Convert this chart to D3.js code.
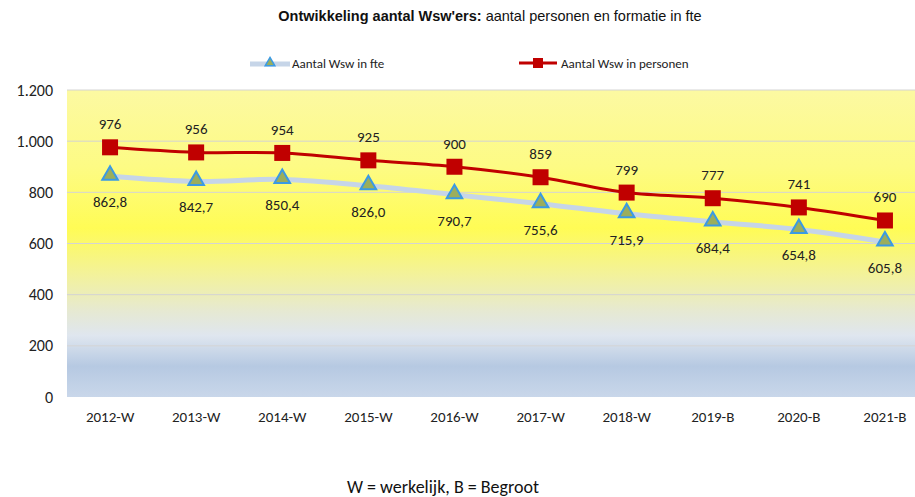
<!DOCTYPE html>
<meta charset="utf-8">
<script src="https://d3js.org/d3.v7.min.js"></script>
<style>
  body { margin: 0; background: #fff; }
  text { font-family: Carlito, Lato, "Liberation Sans", sans-serif; }
</style>
<div id="my_dataviz"></div>
<script>
    // data
    var years = ["2012-W", "2013-W", "2014-W", "2015-W", "2016-W", "2017-W", "2018-W", "2019-B", "2020-B", "2021-B"]
    var personen = [976, 956, 954, 925, 900, 859, 799, 777, 741, 690]
    var fte = [862.8, 842.7, 850.4, 826.0, 790.7, 755.6, 715.9, 684.4, 654.8, 605.8]
    var yTicks = [0, 200, 400, 600, 800, 1000, 1200]

    var width = 915, height = 497
    var margin = { top: 90, left: 67, right: -13, bottom: 100 }

    var svg = d3.select("#my_dataviz")
        .append("svg")
        .attr("width", width)
        .attr("height", height)

    var x = d3.scaleBand()
        .domain(years)
        .range([margin.left, width - margin.right])

    var y = d3.scaleLinear()
        .domain([0, 1200])
        .range([height - margin.bottom, margin.top])

    // background gradient of the plot area
    var grad = svg.append("defs").append("linearGradient")
        .attr("id", "bg").attr("x1", 0).attr("y1", 0).attr("x2", 0).attr("y2", 1)
    var stops = [[0, "#fcf9a2"], [0.25, "#fdfb84"], [0.45, "#fffc55"], [0.6, "#f3f29a"], [0.72, "#e6e9d2"], [0.8, "#dfe6ef"], [0.9, "#b6c9e2"], [1, "#c9d7ea"]]
    stops.forEach(function(s) {
        grad.append("stop").attr("offset", s[0]).attr("stop-color", s[1])
    })

    svg.append("rect")
        .attr("x", margin.left)
        .attr("y", y(1200))
        .attr("width", width - margin.right - margin.left)
        .attr("height", y(0) - y(1200))
        .attr("fill", "url(#bg)")

    // gridlines
    svg.selectAll(".grid")
        .data(yTicks.filter(function(d) { return d > 0 }))
        .enter().append("line")
        .attr("x1", margin.left)
        .attr("x2", width - margin.right)
        .attr("y1", function(d) { return y(d) })
        .attr("y2", function(d) { return y(d) })
        .attr("stroke", "#d4d4d4")
        .attr("stroke-width", 1)

    // y axis labels
    var yAxis = d3.axisLeft(y)
        .tickValues(yTicks)
        .tickSize(0)
        .tickPadding(14)
        .tickFormat(function(d) { return d3.format(",")(d).replace(",", ".") })
    svg.append("g")
        .attr("transform", "translate(" + margin.left + ",0)")
        .call(yAxis)
        .call(function(g) { g.select(".domain").remove() })
        .selectAll("text")
        .style("font-size", "16px")
        .attr("fill", "#222")

    // x axis labels
    var xAxis = d3.axisBottom(x).tickSize(0).tickPadding(14)
    svg.append("g")
        .attr("transform", "translate(0," + y(0) + ")")
        .call(xAxis)
        .call(function(g) { g.select(".domain").remove() })
        .selectAll("text")
        .style("font-size", "15px")
        .attr("fill", "#222")

    var cx = function(d, i) { return x(years[i]) + x.bandwidth() / 2 }

    var line = d3.line()
        .x(cx)
        .y(function(d) { return y(d) })
        .curve(d3.curveCatmullRom.alpha(0.5))

    // fte line
    svg.append("path")
        .datum(fte)
        .attr("d", line)
        .attr("fill", "none")
        .attr("stroke", "#c6d5e8")
        .attr("stroke-width", 5)

    // personen line
    svg.append("path")
        .datum(personen)
        .attr("d", line)
        .attr("fill", "none")
        .attr("stroke", "#c00000")
        .attr("stroke-width", 3)

    var tri = d3.symbol().type(d3.symbolTriangle).size(105)

    svg.selectAll(".tri")
        .data(fte)
        .enter().append("path")
        .attr("d", tri)
        .attr("transform", function(d, i) { return "translate(" + cx(d, i) + "," + (y(d) - 1) + ")" })
        .attr("fill", "#9bae5c")
        .attr("stroke", "#3a9ae4")
        .attr("stroke-width", 2)

    svg.selectAll(".sq")
        .data(personen)
        .enter().append("rect")
        .attr("x", function(d, i) { return cx(d, i) - 8 })
        .attr("y", function(d) { return y(d) - 8 })
        .attr("width", 16)
        .attr("height", 16)
        .attr("fill", "#c00000")

    // data labels
    svg.selectAll(".lblp")
        .data(personen)
        .enter().append("text")
        .attr("x", cx)
        .attr("y", function(d) { return y(d) - 18 })
        .attr("text-anchor", "middle")
        .style("font-size", "15px")
        .attr("fill", "#222")
        .text(function(d) { return d })

    svg.selectAll(".lblf")
        .data(fte)
        .enter().append("text")
        .attr("x", cx)
        .attr("y", function(d) { return y(d) + 31 })
        .attr("text-anchor", "middle")
        .style("font-size", "15px")
        .attr("fill", "#222")
        .text(function(d) { return d.toFixed(1).replace(".", ",") })

    // title
    var title = svg.append("text")
        .attr("x", 490)
        .attr("y", 21)
        .attr("text-anchor", "middle")
        .style("font-family", "'Liberation Sans', Arial, sans-serif")
        .style("font-size", "14.5px")
        .attr("fill", "#111")
    title.append("tspan").attr("font-weight", "bold").text("Ontwikkeling aantal Wsw'ers: ")
    title.append("tspan").text("aantal personen en formatie in fte")

    // legend
    var lg = svg.append("g")
    lg.append("line").attr("x1", 250).attr("x2", 290).attr("y1", 64).attr("y2", 64)
        .attr("stroke", "#c6d5e8").attr("stroke-width", 5)
    lg.append("path").attr("d", d3.symbol().type(d3.symbolTriangle).size(40))
        .attr("transform", "translate(270,63)")
        .attr("fill", "#9bae5c").attr("stroke", "#3a9ae4").attr("stroke-width", 1.5)
    lg.append("text").attr("x", 292).attr("y", 68).style("font-size", "13px").attr("fill", "#222").text("Aantal Wsw in fte")

    lg.append("line").attr("x1", 519).attr("x2", 557).attr("y1", 63).attr("y2", 63)
        .attr("stroke", "#c00000").attr("stroke-width", 3)
    lg.append("rect").attr("x", 533).attr("y", 58).attr("width", 10).attr("height", 10).attr("fill", "#c00000")
    lg.append("text").attr("x", 561).attr("y", 68).style("font-size", "13px").attr("fill", "#222").text("Aantal Wsw in personen")

    // footnote
    svg.append("text")
        .attr("x", 443)
        .attr("y", 493)
        .attr("text-anchor", "middle")
        .style("font-size", "18px")
        .attr("fill", "#111")
        .text("W = werkelijk, B = Begroot")
</script>
